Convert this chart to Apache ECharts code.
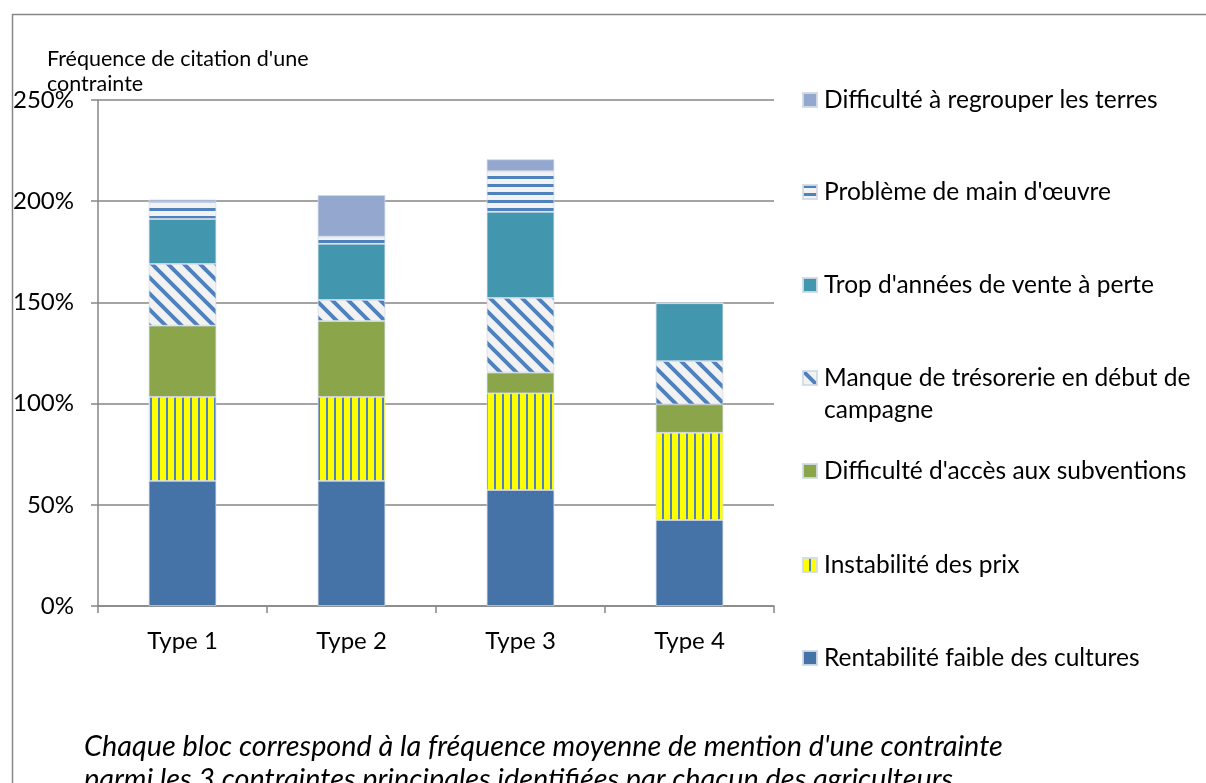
<!DOCTYPE html>
<html>
<head>
<meta charset="utf-8">
<script src="https://cdn.jsdelivr.net/npm/echarts@6/dist/echarts.min.js"></script>
<style>
  html, body { margin: 0; padding: 0; background: #fff; }
  #chart { width: 1206px; height: 783px; }
</style>
</head>
<body>
<div id="chart"></div>
<script>
// Fréquence de citation des contraintes par type d'exploitation (barres empilées)
const categories = ["Type 1", "Type 2", "Type 3", "Type 4"];
const yTicks = [0, 50, 100, 150, 200, 250];

// valeurs en %, du bas vers le haut de chaque pile
const rentabilite = [61.8, 61.8, 57.3, 42.5];
const instabilite = [41.5, 41.5, 47.8, 43.1];
const subventions = [35.2, 37.5, 10.2, 14.0];
const tresorerie = [30.5, 10.4, 36.9, 21.4];
const ventePerte = [22.2, 27.7, 42.5, 28.6];
const mainOeuvre = [8.3, 3.6, 20.1, 0];
const regrouper = [1.3, 20.5, 5.9, 0];

const names = [
  "Rentabilité faible des cultures",
  "Instabilité des prix",
  "Difficulté d'accès aux subventions",
  "Manque de trésorerie en début de campagne",
  "Trop d'années de vente à perte",
  "Problème de main d'œuvre",
  "Difficulté à regrouper les terres",
];
const values = [rentabilite, instabilite, subventions, tresorerie, ventePerte, mainOeuvre, regrouper];

const FONT = "Lato";
const GRAY = "#868686";
const BLUE = "#4F81BD";

// small canvas tiles used as repeating fills (Excel-like hatch patterns)
function tile(w, h, draw) {
  const c = document.createElement("canvas");
  c.width = w; c.height = h;
  draw(c.getContext("2d"));
  return { image: c, repeat: "repeat" };
}
const vStripes = tile(8, 8, (g) => {
  g.fillStyle = "#FFFF00"; g.fillRect(0, 0, 8, 8);
  g.fillStyle = BLUE; g.fillRect(6, 0, 2, 8);
});
const diag = tile(16, 16, (g) => {
  g.fillStyle = "#F2F2F2"; g.fillRect(0, 0, 16, 16);
  g.strokeStyle = BLUE; g.lineWidth = 4;
  g.beginPath();
  g.moveTo(-16, -16); g.lineTo(32, 32);
  g.moveTo(-16, 0); g.lineTo(16, 32);
  g.moveTo(0, -16); g.lineTo(32, 16);
  g.stroke();
});
const hStripes = tile(8, 8, (g) => {
  g.fillStyle = "#F2F2F2"; g.fillRect(0, 0, 8, 8);
  g.fillStyle = BLUE; g.fillRect(0, 0, 8, 3);
});

const fills = ["#4573A7", vStripes, "#8AA54A", diag, "#4297AE", hStripes, "#94A8CF"];

// legend rows, top to bottom (reverse stacking order), centre y of first text line
const legendY = [100, 192, 285, 378, 471, 565, 658];

const chart = echarts.init(document.getElementById("chart"), null, { renderer: "canvas" });

const legends = names.slice().reverse().map((n, i) => {
  const twoLines = n.startsWith("Manque");
  const lh = twoLines ? 32 : 28;
  return {
    show: true,
    left: 802,
    top: twoLines ? legendY[i] - lh * 1.5 : legendY[i] - lh / 2,
    orient: "vertical",
    data: [n],
    selectedMode: false,
    itemWidth: 14, itemHeight: 14,
    icon: "rect",
    padding: 0,
    formatter: twoLines ? () => "\nManque de trésorerie en début de\ncampagne" : undefined,
    textStyle: { fontFamily: FONT, fontSize: 24.5, color: "#000", lineHeight: lh, padding: [0, 0, 0, 2] },
  };
});

chart.setOption({
  animation: false,
  backgroundColor: "#fff",
  title: [
    {
      text: "Fréquence de citation d'une\ncontrainte",
      left: 42, top: 42,
      textStyle: { fontFamily: FONT, fontSize: 21.5, fontWeight: "normal", color: "#000", lineHeight: 25 },
    },
    {
      text: "Chaque bloc correspond à la fréquence moyenne de mention d'une contrainte\nparmi les 3 contraintes principales identifiées par chacun des agriculteurs",
      left: 79, top: 725,
      textStyle: { fontFamily: FONT, fontSize: 28.8, fontStyle: "italic", fontWeight: "normal", color: "#000", lineHeight: 33 },
    },
  ],
  graphic: [
    { type: "rect", left: 10, top: 12, shape: { width: 1400, height: 1000 }, silent: true,
      style: { fill: "none", stroke: GRAY, lineWidth: 1.5 } },
  ],
  legend: legends,
  grid: { left: 98, right: 432, top: 100, bottom: 177 },
  xAxis: {
    type: "category",
    data: categories,
    axisLine: { lineStyle: { color: GRAY, width: 1.5 } },
    axisTick: { show: true, length: 7, lineStyle: { color: GRAY, width: 1.5 } },
    axisLabel: { fontFamily: FONT, fontSize: 24, color: "#000", margin: 23 },
  },
  yAxis: {
    type: "value",
    min: 0, max: 250, interval: 50,
    axisLine: { show: true, lineStyle: { color: GRAY, width: 1.5 } },
    axisTick: { show: true, length: 7, lineStyle: { color: GRAY, width: 1.5 } },
    splitLine: { lineStyle: { color: GRAY, width: 1.5 } },
    axisLabel: { fontFamily: FONT, fontSize: 24, color: "#000", margin: 24,
      formatter: (v) => (yTicks.includes(v) ? v + "%" : "") },
  },
  series: names.map((n, i) => ({
    name: n,
    type: "bar",
    stack: "total",
    barWidth: "40%",
    data: values[i],
    itemStyle: { color: fills[i], borderColor: "rgba(210,218,230,0.9)", borderWidth: 0.8 },
  })),
});
</script>
</body>
</html>
